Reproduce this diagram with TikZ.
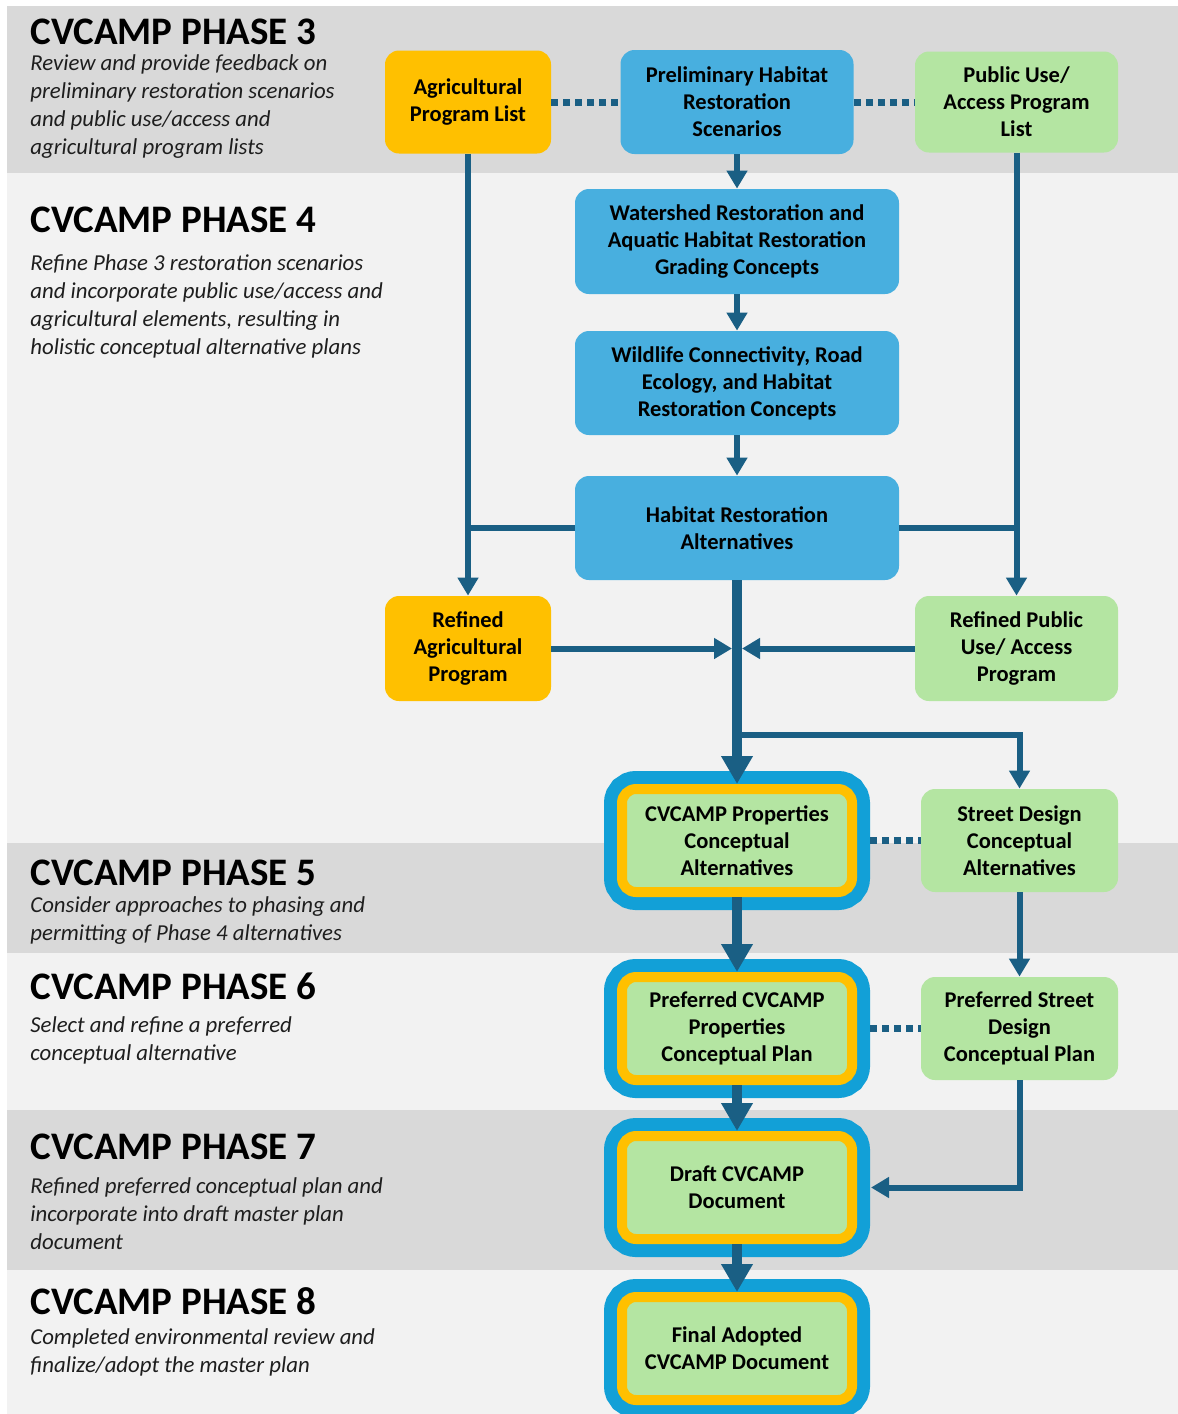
\documentclass[tikz,border=0pt]{standalone}
\usepackage{fontspec}
\setmainfont{Carlito}
\usetikzlibrary{arrows.meta}
\definecolor{bandgray}{HTML}{D9D9D9}
\definecolor{bandlight}{HTML}{F2F2F2}
\definecolor{agorange}{HTML}{FFC000}
\definecolor{habblue}{HTML}{48AFDF}
\definecolor{pubgreen}{HTML}{B4E5A2}
\definecolor{ringblue}{HTML}{12A0D7}
\definecolor{flowblue}{HTML}{1A5F84}
\definecolor{notegray}{HTML}{1E1E1E}
\tikzset{
  phase/.style={anchor=base west,inner sep=0pt,
    font=\fontsize{19.5pt}{23pt}\selectfont\bfseries},
  % multi-line: base is the last line
  note/.style={anchor=base west,inner sep=0pt,align=left,text=notegray,
    font=\fontsize{11.4pt}{13.85pt}\selectfont\itshape},
  box/.style={rectangle,rounded corners=7pt,inner sep=0pt,align=center,
    font=\fontsize{11.25pt}{13.5pt}\selectfont\bfseries,
    minimum width=#1,minimum height=52pt},
  hab/.style={box=#1,fill=habblue},
  ag/.style={box=#1,fill=agorange},
  pub/.style={box=#1,fill=pubgreen},
  key/.style={box=115pt,minimum height=51.5pt,fill=pubgreen,draw=agorange,
    line width=5pt,preaction={draw=ringblue,line width=18pt}},
  tie/.style={draw=flowblue,line width=3pt},
  flow/.style={tie,-{Triangle[width=10pt,length=9pt]}},
  trunk/.style={draw=flowblue,line width=5pt,-{Triangle[width=15pt,length=14pt]}},
  link/.style={draw=flowblue,line width=3.5pt,dash pattern=on 3.5pt off 2.5pt}
}
\begin{document}
\begin{tikzpicture}[x=0.5pt,y=-0.5pt]
  \useasboundingbox (0,0) rectangle (1178,1414);
  \fill[white] (0,0) rectangle (1178,1414);
  % phase bands
  \foreach \top/\bot/\col in {6/173/bandgray,173/843/bandlight,843/953/bandgray,
    953/1110/bandlight,1110/1270/bandgray,1270/1414/bandlight}
    \fill[\col] (7,\top) rectangle (1178,\bot);

  % phase titles and notes
  \node (p3) [phase] at (30,44) {CVCAMP PHASE 3};
  \node (p3note) [note] at (30,154) {Review and provide feedback on\\preliminary restoration scenarios\\and public use/access and\\agricultural program lists};
  \node (p4) [phase] at (30,232) {CVCAMP PHASE 4};
  \node (p4note) [note] at (30,354) {Refine Phase 3 restoration scenarios\\and incorporate public use/access and\\agricultural elements, resulting in\\holistic conceptual alternative plans};
  \node (p5) [phase] at (30,885) {CVCAMP PHASE 5};
  \node (p5note) [note] at (30,940) {Consider approaches to phasing and\\permitting of Phase 4 alternatives};
  \node (p6) [phase] at (30,999) {CVCAMP PHASE 6};
  \node (p6note) [note] at (30,1060) {Select and refine a preferred\\conceptual alternative};
  \node (p7) [phase] at (30,1159) {CVCAMP PHASE 7};
  \node (p7note) [note] at (30,1249) {Refined preferred conceptual plan and\\incorporate into draft master plan\\document};
  \node (p8) [phase] at (30,1314) {CVCAMP PHASE 8};
  \node (p8note) [note] at (30,1372) {Completed environmental review and\\finalize/adopt the master plan};

  % boxes
  \node (agri) [ag=83pt,minimum height=51.5pt] at (468,102) {Agricultural\\Program List};
  \node (prelim) [hab=116.5pt] at (737,102) {Preliminary Habitat\\Restoration\\Scenarios};
  \node (publist) [pub=101.5pt,minimum height=50.5pt] at (1016.5,102) {Public Use/\\Access Program\\List};
  \node (watershed) [hab=162pt,minimum height=52.5pt] at (737,241.5) {Watershed Restoration and\\Aquatic Habitat Restoration\\Grading Concepts};
  \node (wildlife) [hab=162pt] at (737,383) {Wildlife Connectivity, Road\\Ecology, and Habitat\\Restoration Concepts};
  \node (habalt) [hab=162pt] at (737,528) {Habitat Restoration\\Alternatives};
  \node (refagri) [ag=83pt,minimum height=52.5pt] at (468,648.5) {Refined\\Agricultural\\Program};
  \node (refpub) [pub=101.5pt,minimum height=52.5pt] at (1016.5,648.5) {Refined Public\\Use/ Access\\Program};
  \node (props) [key] at (737,840.5) {CVCAMP Properties\\Conceptual\\Alternatives};
  \node (street) [pub=98.5pt,minimum height=51.5pt] at (1019.5,840.5) {Street Design\\Conceptual\\Alternatives};
  \node (prefprops) [key] at (737,1028.5) {Preferred CVCAMP\\Properties\\Conceptual Plan};
  \node (prefstreet) [pub=98.5pt,minimum height=51.5pt] at (1019.5,1028.5) {Preferred Street\\Design\\Conceptual Plan};
  \node (draft) [key] at (737,1187.5) {Draft CVCAMP\\Document};
  \node (final) [key] at (737,1348.5) {Final Adopted\\CVCAMP Document};

  \coordinate (meet) at (737,648.5);
  \coordinate (fork) at (737,735);

  % connectors
  \draw[link] (agri) -- (prelim);
  \draw[link] (prelim) -- (publist);
  \draw[flow] (prelim) -- (watershed);
  \draw[flow] (watershed) -- (wildlife);
  \draw[flow] (wildlife) -- (habalt);
  \draw[flow] (agri) -- (refagri);
  \draw[flow] (publist) -- (refpub);
  \draw[tie] (habalt) -- (habalt -| agri);
  \draw[tie] (habalt) -- (habalt -| publist);
  \draw[trunk] (habalt) -- (props);
  \draw[flow,shorten >=2.5pt] (refagri) -- (meet);
  \draw[flow,shorten >=2.5pt] (refpub) -- (meet);
  \draw[flow] (fork) -| (street);
  \draw[link,shorten <=6.5pt] (props) -- (street);
  \draw[trunk] (props) -- (prefprops);
  \draw[flow] (street) -- (prefstreet);
  \draw[link,shorten <=6.5pt] (prefprops) -- (prefstreet);
  \draw[trunk] (prefprops) -- (draft);
  \draw[flow,shorten >=7pt] (prefstreet) |- (draft);
  \draw[trunk] (draft) -- (final);
\end{tikzpicture}
\end{document}
